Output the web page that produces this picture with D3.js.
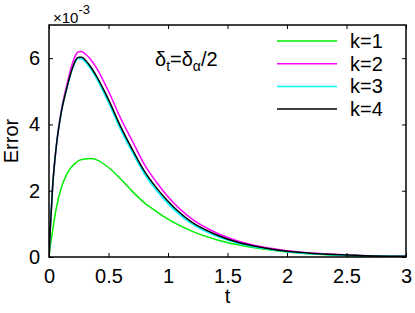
<!DOCTYPE html>
<html>
<head>
<meta charset="utf-8">
<script src="https://cdn.jsdelivr.net/npm/d3@7"></script>
<style>
  html, body { margin: 0; padding: 0; background: #fff; }
  svg { display: block; font-family: "Liberation Sans", Arial, Helvetica, sans-serif; }
</style>
</head>
<body>
<svg id="chart" width="415" height="313"></svg>
<script>
// ---- data (Error values in units of 1e-3) ----
const tValues = [0, 0.01, 0.03, 0.06, 0.1, 0.15, 0.2, 0.225, 0.25, 0.275, 0.3, 0.35, 0.4, 0.5, 0.6, 0.7, 0.8, 0.9, 1.0, 1.2, 1.4, 1.6, 1.8, 2.0, 2.25, 2.5, 2.75, 3.0];
const errK1 = [0, 0.30, 0.78, 1.45, 2.05, 2.50, 2.76, 2.84, 2.91, 2.94, 2.96, 2.97, 2.93, 2.70, 2.36, 1.98, 1.64, 1.38, 1.14, 0.78, 0.53, 0.36, 0.24, 0.15, 0.08, 0.04, 0.02, 0.01];
const errK2 = [0, 0.80, 2.10, 3.30, 4.35, 5.20, 5.88, 6.10, 6.19, 6.20, 6.14, 5.96, 5.70, 5.00, 4.20, 3.50, 2.80, 2.27, 1.82, 1.15, 0.74, 0.47, 0.30, 0.19, 0.11, 0.06, 0.03, 0.02];
const errK3 = [0, 0.80, 2.10, 3.30, 4.30, 5.10, 5.70, 5.91, 5.99, 5.98, 5.91, 5.68, 5.38, 4.66, 3.86, 3.16, 2.52, 2.02, 1.61, 1.00, 0.64, 0.41, 0.26, 0.16, 0.09, 0.05, 0.03, 0.02];
const errK4 = [0, 0.80, 2.10, 3.30, 4.30, 5.10, 5.73, 5.95, 6.03, 6.03, 5.96, 5.74, 5.45, 4.75, 3.95, 3.25, 2.60, 2.10, 1.68, 1.05, 0.68, 0.43, 0.28, 0.17, 0.10, 0.06, 0.03, 0.02];
const seriesNames = ["k=1", "k=2", "k=3", "k=4"];
const seriesColors = ["#00ee00", "#ff00ff", "#00ffff", "#000000"];
const xTicks = [0, 0.5, 1, 1.5, 2, 2.5, 3];
const xTickLabels = ["0", "0.5", "1", "1.5", "2", "2.5", "3"];
const yTicks = [0, 2, 4, 6];
const yTickLabels = ["0", "2", "4", "6"];

const allSeries = [errK1, errK2, errK3, errK4];

// ---- layout ----
const L = 49, R = 406, T = 25, B = 257;
const svg = d3.select("#chart");

const x = d3.scaleLinear().domain([0, 3]).range([L, R]);
const y = d3.scaleLinear().domain([0, 7]).range([B, T]);

svg.append("defs").append("clipPath").attr("id", "clip")
  .append("rect").attr("x", L).attr("y", T).attr("width", R - L).attr("height", B - T);

// lines
const line = d3.line()
  .x(d => x(d[0]))
  .y(d => y(d[1]))
  .curve(d3.curveMonotoneX);

const g = svg.append("g").attr("clip-path", "url(#clip)");
allSeries.forEach((vals, i) => {
  g.append("path")
    .datum(tValues.map((t, j) => [t, vals[j]]))
    .attr("fill", "none")
    .attr("stroke", seriesColors[i])
    .attr("stroke-width", 1.5)
    .attr("d", line);
});

// axes (ticks inside)
const tickLen = 4;
const fontSize = 20;
const axB = svg.append("g").attr("transform", `translate(0,${B})`)
  .call(d3.axisBottom(x).tickValues(xTicks).tickSizeInner(-tickLen).tickSizeOuter(0)
    .tickFormat((d, i) => xTickLabels[i]).tickPadding(12));
const axT = svg.append("g").attr("transform", `translate(0,${T})`)
  .call(d3.axisTop(x).tickValues(xTicks).tickSizeInner(-tickLen).tickSizeOuter(0).tickFormat(""));
const axL = svg.append("g").attr("transform", `translate(${L},0)`)
  .call(d3.axisLeft(y).tickValues(yTicks).tickSizeInner(-tickLen).tickSizeOuter(0)
    .tickFormat((d, i) => yTickLabels[i]).tickPadding(9));
const axR = svg.append("g").attr("transform", `translate(${R},0)`)
  .call(d3.axisRight(y).tickValues(yTicks).tickSizeInner(-tickLen).tickSizeOuter(0).tickFormat(""));

[axB, axT, axL, axR].forEach(a => {
  a.selectAll(".domain").remove();
  a.selectAll("line").attr("stroke", "#000").attr("stroke-width", 1);
  a.selectAll("text").attr("font-size", fontSize).attr("fill", "#000")
    .attr("font-family", "'Liberation Sans', Arial, sans-serif");
});

// frame
svg.append("rect").attr("x", L).attr("y", T).attr("width", R - L).attr("height", B - T)
  .attr("fill", "none").attr("stroke", "#000").attr("stroke-width", 1.5);

// exponent label
const ex = svg.append("text").attr("x", 53).attr("y", 23).attr("font-size", 15).attr("fill", "#000");
ex.append("tspan").text("×10");
ex.append("tspan").attr("dy", -9).attr("font-size", 13).text("-3");

// axis titles
svg.append("text").attr("x", x(1.5)).attr("y", 303).attr("text-anchor", "middle")
  .attr("font-size", 20).attr("fill", "#000").text("t");
svg.append("text").attr("transform", `translate(18,${(T + B) / 2}) rotate(-90)`)
  .attr("text-anchor", "middle").attr("font-size", 20).attr("fill", "#000").text("Error");

// annotation
const an = svg.append("text").attr("x", 155).attr("y", 66).attr("font-size", 20).attr("fill", "#000");
an.append("tspan").text("δ");
an.append("tspan").attr("font-size", 14).attr("dy", 5).text("t");
an.append("tspan").attr("dy", -5).text("=δ");
an.append("tspan").attr("font-size", 14).attr("dy", 5).text("α");
an.append("tspan").attr("dy", -5).text("/2");

// legend
const legY0 = 41, legDy = 22.7;
seriesNames.forEach((name, i) => {
  const yy = legY0 + i * legDy;
  svg.append("line").attr("x1", 277).attr("x2", 337).attr("y1", yy).attr("y2", yy)
    .attr("stroke", seriesColors[i]).attr("stroke-width", 1.5);
  svg.append("text").attr("x", 350).attr("y", yy + 7).attr("font-size", 20)
    .attr("fill", "#000").text(name);
});
</script>
</body>
</html>
